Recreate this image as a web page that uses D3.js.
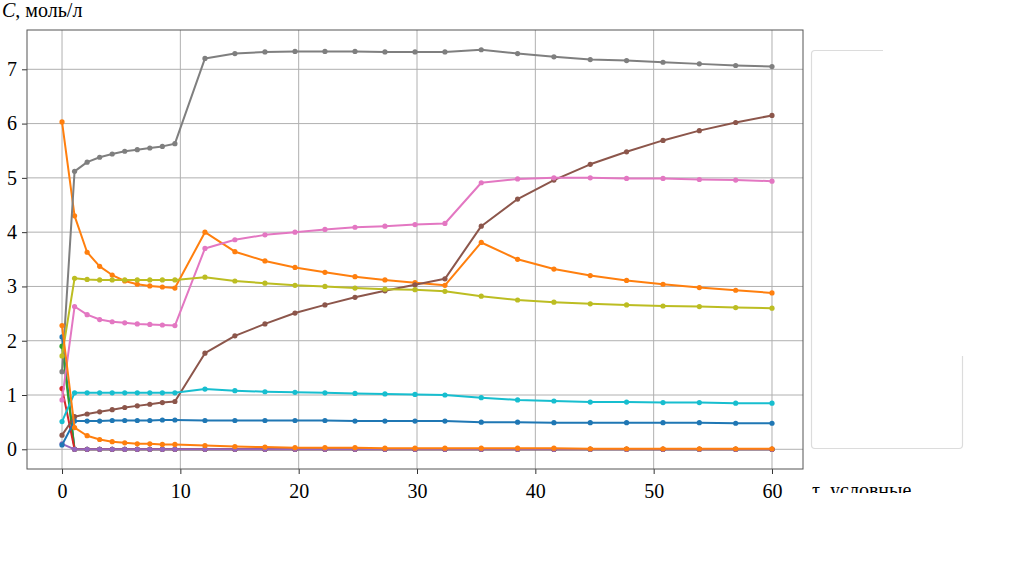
<!DOCTYPE html>
<html><head><meta charset="utf-8">
<script src="https://cdn.jsdelivr.net/npm/d3@7"></script>
<style>html,body{margin:0;padding:0;background:#fff;}svg{display:block;}</style>
</head><body>
<svg id="chart" width="1012" height="572"></svg>
<script>
// ---- data ----
const tau = [0, 1.06, 2.12, 3.18, 4.24, 5.30, 6.36, 7.42, 8.48, 9.54,
  12.08, 14.61, 17.15, 19.69, 22.22, 24.76, 27.29, 29.83, 32.36,
  35.43, 38.50, 41.57, 44.64, 47.71, 50.79, 53.86, 56.93, 60.0];
const s1 = [2.07, 0,0,0,0,0,0,0,0,0, 0,0,0,0,0,0,0,0,0, 0,0,0,0,0,0,0,0,0];
const s2 = [6.03, 4.30, 3.63, 3.37, 3.21, 3.10, 3.04, 3.01, 2.99, 2.97,
  4.00, 3.64, 3.47, 3.35, 3.26, 3.18, 3.12, 3.07, 3.02,
  3.81, 3.50, 3.32, 3.20, 3.11, 3.04, 2.98, 2.93, 2.88];
const s3 = [1.90, 0,0,0,0,0,0,0,0,0, 0,0,0,0,0,0,0,0,0, 0,0,0,0,0,0,0,0,0];
const s4 = [1.12, 0,0,0,0,0,0,0,0,0, 0,0,0,0,0,0,0,0,0, 0,0,0,0,0,0,0,0,0];
const s5 = [0.10, 0,0,0,0,0,0,0,0,0, 0,0,0,0,0,0,0,0,0, 0,0,0,0,0,0,0,0,0];
const s6 = [0.26, 0.60, 0.65, 0.69, 0.73, 0.77, 0.80, 0.83, 0.86, 0.88,
  1.77, 2.09, 2.31, 2.51, 2.66, 2.80, 2.92, 3.03, 3.14,
  4.11, 4.61, 4.96, 5.25, 5.48, 5.69, 5.87, 6.02, 6.15];
const s7 = [0.91, 2.63, 2.48, 2.39, 2.35, 2.33, 2.31, 2.30, 2.29, 2.28,
  3.70, 3.86, 3.95, 4.00, 4.05, 4.09, 4.11, 4.14, 4.16,
  4.91, 4.98, 5.00, 5.00, 4.99, 4.99, 4.97, 4.96, 4.94];
const s8 = [1.43, 5.12, 5.29, 5.38, 5.44, 5.49, 5.52, 5.55, 5.58, 5.63,
  7.20, 7.29, 7.32, 7.33, 7.33, 7.33, 7.32, 7.32, 7.32,
  7.36, 7.29, 7.23, 7.18, 7.16, 7.13, 7.10, 7.07, 7.05];
const s9 = [1.72, 3.15, 3.13, 3.12, 3.12, 3.12, 3.12, 3.12, 3.12, 3.12,
  3.17, 3.10, 3.06, 3.02, 3.00, 2.97, 2.95, 2.94, 2.91,
  2.82, 2.75, 2.71, 2.68, 2.66, 2.64, 2.63, 2.61, 2.60];
const s10 = [0.51, 1.04, 1.04, 1.04, 1.04, 1.04, 1.04, 1.04, 1.04, 1.04,
  1.11, 1.08, 1.06, 1.05, 1.04, 1.03, 1.02, 1.01, 1.00,
  0.95, 0.91, 0.89, 0.87, 0.87, 0.86, 0.86, 0.85, 0.85];
const s11 = [0.08, 0.52, 0.52, 0.52, 0.53, 0.53, 0.53, 0.53, 0.54, 0.54,
  0.53, 0.53, 0.53, 0.53, 0.53, 0.52, 0.52, 0.52, 0.52,
  0.50, 0.50, 0.49, 0.49, 0.49, 0.49, 0.49, 0.48, 0.48];
const s12 = [2.28, 0.40, 0.25, 0.18, 0.14, 0.12, 0.10, 0.10, 0.09, 0.09,
  0.07, 0.05, 0.04, 0.03, 0.03, 0.03, 0.02, 0.02, 0.02,
  0.02, 0.02, 0.02, 0.01, 0.01, 0.01, 0.01, 0.01, 0.01];
const seriesList = [s1, s2, s3, s4, s5, s6, s7, s8, s9, s10, s11, s12];
const colors = ["#1f77b4","#ff7f0e","#2ca02c","#d62728","#9467bd","#8c564b",
  "#e377c2","#7f7f7f","#bcbd22","#17becf","#1f77b4","#ff7f0e"];
const xTicks = [0, 10, 20, 30, 40, 50, 60];
const yTicks = [0, 1, 2, 3, 4, 5, 6, 7];
const yTitle = ["C", ", моль/л"];
const xTitle = "τ, условные";

// ---- layout ----
const L = 27, R = 803, T = 30, B = 469;
const x = d3.scaleLinear().domain([-2.96, 62.62]).range([L, R]);
const y = d3.scaleLinear().domain([-0.363, 7.724]).range([B, T]);
const svg = d3.select("#chart");
const font = "'Liberation Serif','Times New Roman',serif";

// grid
svg.append("g").selectAll("line").data(xTicks).join("line")
  .attr("x1", d => x(d)).attr("x2", d => x(d)).attr("y1", T).attr("y2", B)
  .attr("stroke", "#b0b0b0").attr("stroke-width", 1);
svg.append("g").selectAll("line").data(yTicks).join("line")
  .attr("x1", L).attr("x2", R).attr("y1", d => y(d)).attr("y2", d => y(d))
  .attr("stroke", "#b0b0b0").attr("stroke-width", 1);

// axes
const xAxis = svg.append("g").attr("transform", `translate(0,${B})`)
  .call(d3.axisBottom(x).tickValues(xTicks).tickSize(5).tickPadding(10).tickFormat(d3.format("d")));
const yAxis = svg.append("g").attr("transform", `translate(${L},0)`)
  .call(d3.axisLeft(y).tickValues(yTicks).tickSize(5).tickPadding(5).tickFormat(d3.format("d")));
[xAxis, yAxis].forEach(g => {
  g.select(".domain").remove();
  g.selectAll(".tick line").attr("stroke", "#333");
  g.selectAll("text").attr("font-family", font).attr("font-size", 20).attr("fill", "#000");
});

// frame
svg.append("rect").attr("x", L).attr("y", T).attr("width", R - L).attr("height", B - T)
  .attr("fill", "none").attr("stroke", "#555").attr("stroke-width", 1);

// lines
const line = d3.line().x((d, i) => x(tau[i])).y(d => y(d));
const clip = svg.append("clipPath").attr("id", "plotclip")
  .append("rect").attr("x", L).attr("y", T).attr("width", R - L).attr("height", B - T);
const plot = svg.append("g").attr("clip-path", "url(#plotclip)");
seriesList.forEach((s, k) => {
  const g = plot.append("g");
  g.append("path").datum(s).attr("d", line).attr("fill", "none")
    .attr("stroke", colors[k]).attr("stroke-width", 2).attr("stroke-linejoin", "round");
  g.selectAll("circle").data(s).join("circle")
    .attr("cx", (d, i) => x(tau[i])).attr("cy", d => y(d)).attr("r", 2.6)
    .attr("fill", colors[k]);
});

// legend box (partially drawn)
const lg = svg.append("g").attr("fill", "none").attr("stroke", "#dcdcdc").attr("stroke-width", 1.2);
lg.append("path").attr("d", "M883,50.5 L815,50.5 Q811.5,50.5 811.5,54 L811.5,445 Q811.5,448.5 815,448.5 L959,448.5 Q962.5,448.5 962.5,445 L962.5,356");

// titles
const yt = svg.append("text").attr("x", 2).attr("y", 17).attr("font-family", font).attr("font-size", 20);
yt.append("tspan").attr("font-style", "italic").text(yTitle[0]);
yt.append("tspan").text(yTitle[1]);
svg.append("clipPath").attr("id", "xtclip").append("rect").attr("x", 800).attr("y", 470).attr("width", 212).attr("height", 23);
svg.append("text").attr("x", 812).attr("y", 497).attr("font-family", font).attr("font-size", 20)
  .attr("clip-path", "url(#xtclip)").text(xTitle);
</script>
</body></html>
